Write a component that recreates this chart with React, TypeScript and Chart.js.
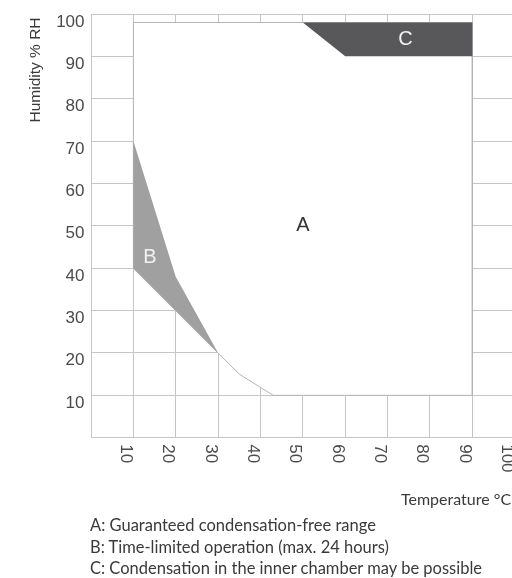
import React, { useEffect, useRef } from "react";
import { Chart, registerables } from "chart.js";

Chart.register(...registerables);

// ---- data ----
const xTicks = [10, 20, 30, 40, 50, 60, 70, 80, 90, 100];
const yTicks = [10, 20, 30, 40, 50, 60, 70, 80, 90, 100];

// Region A: guaranteed condensation-free range
const regionAX = [10, 90, 90, 43, 35, 30, 10, 10];
const regionAY = [98, 98, 10, 10, 15, 20, 40, 98];
// Region B: time-limited operation
const regionBX = [10, 20, 30, 10, 10];
const regionBY = [70, 38, 20, 40, 70];
// Region C: condensation may be possible
const regionCX = [50, 90, 90, 60, 50];
const regionCY = [98, 98, 90, 90, 98];

const regionLabels = ["A", "B", "C"];
const regionLabelX = [50, 13.9, 74.2];
const regionLabelY = [50.2, 42.6, 93.9];

const yTitle = "Humidity % RH";
const xTitle = "Temperature °C";
const legendLines = [
  "A: Guaranteed condensation-free range",
  "B: Time-limited operation (max. 24 hours)",
  "C: Condensation in the inner chamber may be possible",
];

const toPts = (xs: number[], ys: number[]) => xs.map((x, i) => ({ x, y: ys[i] }));

const CANVAS_W = 540;
const CANVAS_H = 578;

const overlayPlugin = {
  id: "overlay",
  afterDatasetsDraw(chart: any) {
    const { ctx, scales } = chart;
    const xs = scales.x;
    const ys = scales.y;
    ctx.save();
    // region labels
    ctx.font = '20px "Liberation Sans", Arial, sans-serif';
    ctx.textAlign = "center";
    ctx.textBaseline = "middle";
    regionLabels.forEach((t, i) => {
      ctx.fillStyle = i === 0 ? "#333333" : "#f2f2f2";
      ctx.fillText(t, xs.getPixelForValue(regionLabelX[i]), ys.getPixelForValue(regionLabelY[i]));
    });
    // y tick labels
    ctx.fillStyle = "#4a4a4a";
    ctx.font = '17px "Liberation Sans", Arial, sans-serif';
    ctx.textAlign = "right";
    ctx.textBaseline = "alphabetic";
    yTicks.forEach((v) => {
      ctx.fillText(String(v), xs.left - 6.5, ys.getPixelForValue(v) + 12.5);
    });
    // x tick labels (rotated clockwise)
    ctx.textAlign = "left";
    xTicks.forEach((v) => {
      const px = xs.getPixelForValue(v);
      ctx.save();
      ctx.translate(px - 12.5, ys.bottom + 6.5);
      ctx.rotate(Math.PI / 2);
      ctx.fillText(String(v), 0, 0);
      ctx.restore();
    });
    // y title
    ctx.font = '15.5px "Liberation Sans", Arial, sans-serif';
    ctx.fillStyle = "#3a3a3a";
    ctx.textAlign = "center";
    ctx.save();
    ctx.translate(40, 70);
    ctx.rotate(-Math.PI / 2);
    ctx.fillText(yTitle, 0, 0);
    ctx.restore();
    ctx.restore();
  },
};

export default function App() {
  const ref = useRef<HTMLCanvasElement | null>(null);

  useEffect(() => {
    if (!ref.current) return;
    const chart = new Chart(ref.current, {
      type: "scatter",
      data: {
        datasets: [
          {
            data: toPts(regionCX, regionCY),
            showLine: true,
            pointRadius: 0,
            borderWidth: 0,
            borderColor: "#58585a",
            backgroundColor: "#58585a",
            fill: "shape",
            tension: 0,
          },
          {
            data: toPts(regionBX, regionBY),
            showLine: true,
            pointRadius: 0,
            borderWidth: 0,
            borderColor: "#a0a0a0",
            backgroundColor: "#a0a0a0",
            fill: "shape",
            tension: 0,
          },
          {
            data: toPts(regionAX, regionAY),
            showLine: true,
            pointRadius: 0,
            borderWidth: 1,
            borderColor: "#b4b4b4",
            backgroundColor: "#ffffff",
            fill: "shape",
            tension: 0,
          },
        ] as any,
      },
      options: {
        animation: false,
        responsive: false,
        devicePixelRatio: 1,
        layout: {
          padding: { left: 91, top: 14, right: CANVAS_W - 514.7, bottom: CANVAS_H - 437.7 },
        },
        plugins: {
          legend: { display: false },
          tooltip: { enabled: false },
        },
        scales: {
          x: {
            type: "linear",
            min: 0,
            max: 100,
            ticks: { display: false, stepSize: 10 },
            grid: { color: "#c6c6c6", lineWidth: 1, drawTicks: false },
            border: { display: false },
            afterFit: (s: any) => {
              s.height = 0;
            },
          },
          y: {
            type: "linear",
            min: 0,
            max: 100,
            ticks: { display: false, stepSize: 10 },
            grid: { color: "#c6c6c6", lineWidth: 1, drawTicks: false },
            border: { display: false },
            afterFit: (s: any) => {
              s.width = 0;
            },
          },
        },
      } as any,
      plugins: [overlayPlugin],
    });
    return () => chart.destroy();
  }, []);

  const textFont = 'Lato, "Open Sans", sans-serif';

  return (
    <div
      style={{
        position: "absolute",
        left: 0,
        top: 0,
        width: 512,
        height: 578,
        overflow: "hidden",
        background: "#ffffff",
      }}
    >
      <canvas
        ref={ref}
        width={CANVAS_W}
        height={CANVAS_H}
        style={{ position: "absolute", left: 0, top: 0, width: CANVAS_W, height: CANVAS_H }}
      />
      <div
        style={{
          position: "absolute",
          left: 401,
          top: 489,
          fontFamily: textFont,
          fontSize: 16,
          lineHeight: "20px",
          color: "#3a3a3a",
          whiteSpace: "nowrap",
        }}
      >
        {xTitle}
      </div>
      <div
        style={{
          position: "absolute",
          left: 90,
          top: 515,
          fontFamily: textFont,
          fontSize: 16.5,
          lineHeight: "21.5px",
          color: "#3a3a3a",
          whiteSpace: "nowrap",
        }}
      >
        {legendLines.map((l, i) => (
          <div key={i}>{l}</div>
        ))}
      </div>
    </div>
  );
}
